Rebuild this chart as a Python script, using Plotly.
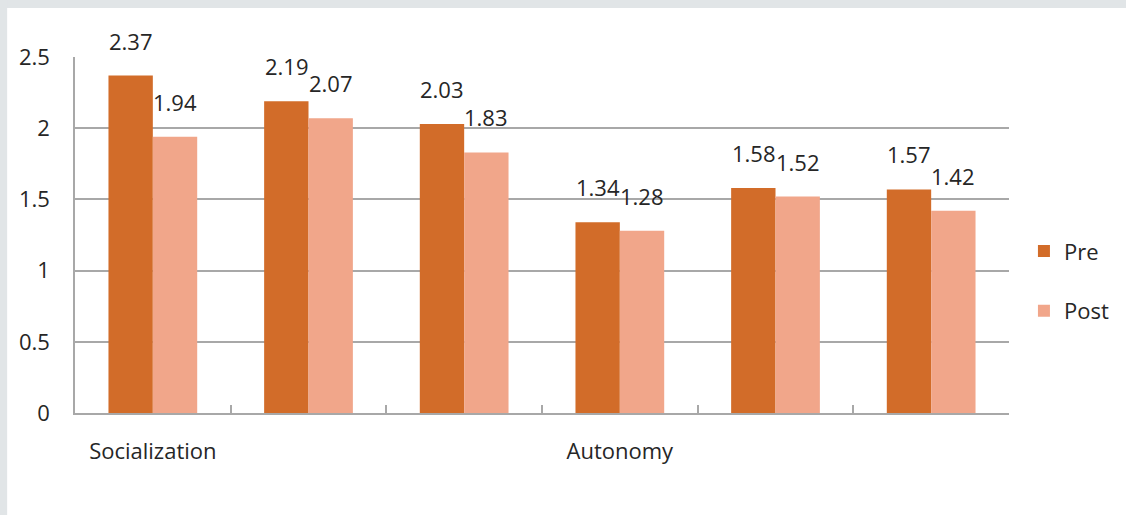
import plotly.graph_objects as go

categories = ["Socialization", "cat2", "cat3", "Autonomy", "cat5", "cat6"]
tick_labels = ["Socialization", "", "", "Autonomy", "", ""]
pre_values = [2.37, 2.19, 2.03, 1.34, 1.58, 1.57]
post_values = [1.94, 2.07, 1.83, 1.28, 1.52, 1.42]
y_ticks = [0, 0.5, 1, 1.5, 2, 2.5]
y_tick_labels = ["0", "0.5", "1", "1.5", "2", "2.5"]

PRE_COLOR = "#D26C29"
POST_COLOR = "#F1A68A"
FONT = "Open Sans"
TEXT = "#262626"
GRID = "#A8A8A8"
FS = 22

fig = go.Figure()
fig.add_trace(go.Bar(x=categories, y=pre_values, name="Pre", marker_color=PRE_COLOR,
                     marker_line_width=0, legendgroup="pre"))
fig.add_trace(go.Bar(x=categories, y=post_values, name="Post", marker_color=POST_COLOR,
                     marker_line_width=0, legendgroup="post"))

annotations = []
for c, v in zip(categories, pre_values):
    annotations.append(dict(x=c, y=v, text=f"{v:.2f}", showarrow=False, xref="x", yref="y",
                            xshift=-22, yshift=18, yanchor="bottom",
                            font=dict(family=FONT, size=FS, color=TEXT)))
for c, v in zip(categories, post_values):
    annotations.append(dict(x=c, y=v, text=f"{v:.2f}", showarrow=False, xref="x", yref="y",
                            xshift=22, yshift=18, yanchor="bottom",
                            font=dict(family=FONT, size=FS, color=TEXT)))

# light grey frame strips on top and left of the image
shapes = [
    dict(type="rect", xref="paper", yref="paper", x0=-0.09, x1=1.13, y0=1 + 49 / 356, y1=1.2,
         fillcolor="#E1E5E7", line_width=0, layer="below"),
    dict(type="rect", xref="paper", yref="paper", x0=-0.09, x1=-68 / 936, y0=-0.3, y1=1.2,
         fillcolor="#E1E5E7", line_width=0, layer="below"),
]

fig.update_layout(
    width=1126, height=515,
    margin=dict(l=75, r=115, t=57, b=102),
    paper_bgcolor="white", plot_bgcolor="white",
    barmode="group", bargap=0.43, bargroupgap=0,
    font=dict(family=FONT, size=FS, color=TEXT),
    showlegend=True,
    legend=dict(x=1.016, xanchor="left", y=0.37, yanchor="middle",
                font=dict(family=FONT, size=FS, color=TEXT),
                tracegroupgap=28, bgcolor="rgba(0,0,0,0)"),
    annotations=annotations,
    shapes=shapes,
)
fig.update_xaxes(
    type="category", categoryorder="array", categoryarray=categories,
    tickmode="array", tickvals=categories, ticktext=tick_labels,
    tickson="boundaries", ticks="inside", ticklen=8, tickcolor=GRID, tickwidth=1.5,
    showline=True, linecolor=GRID, linewidth=1.5, showgrid=False,
    tickfont=dict(family=FONT, size=FS, color=TEXT), ticklabelstandoff=18,
)
fig.update_yaxes(
    range=[0, 2.5], tickmode="array", tickvals=y_ticks, ticktext=y_tick_labels,
    showgrid=True, gridcolor=GRID, gridwidth=1.5, zeroline=False,
    showline=True, linecolor=GRID, linewidth=1.5, ticks="",
    tickfont=dict(family=FONT, size=FS, color=TEXT), ticklabelstandoff=19,
)

fig.write_html("out.html")
